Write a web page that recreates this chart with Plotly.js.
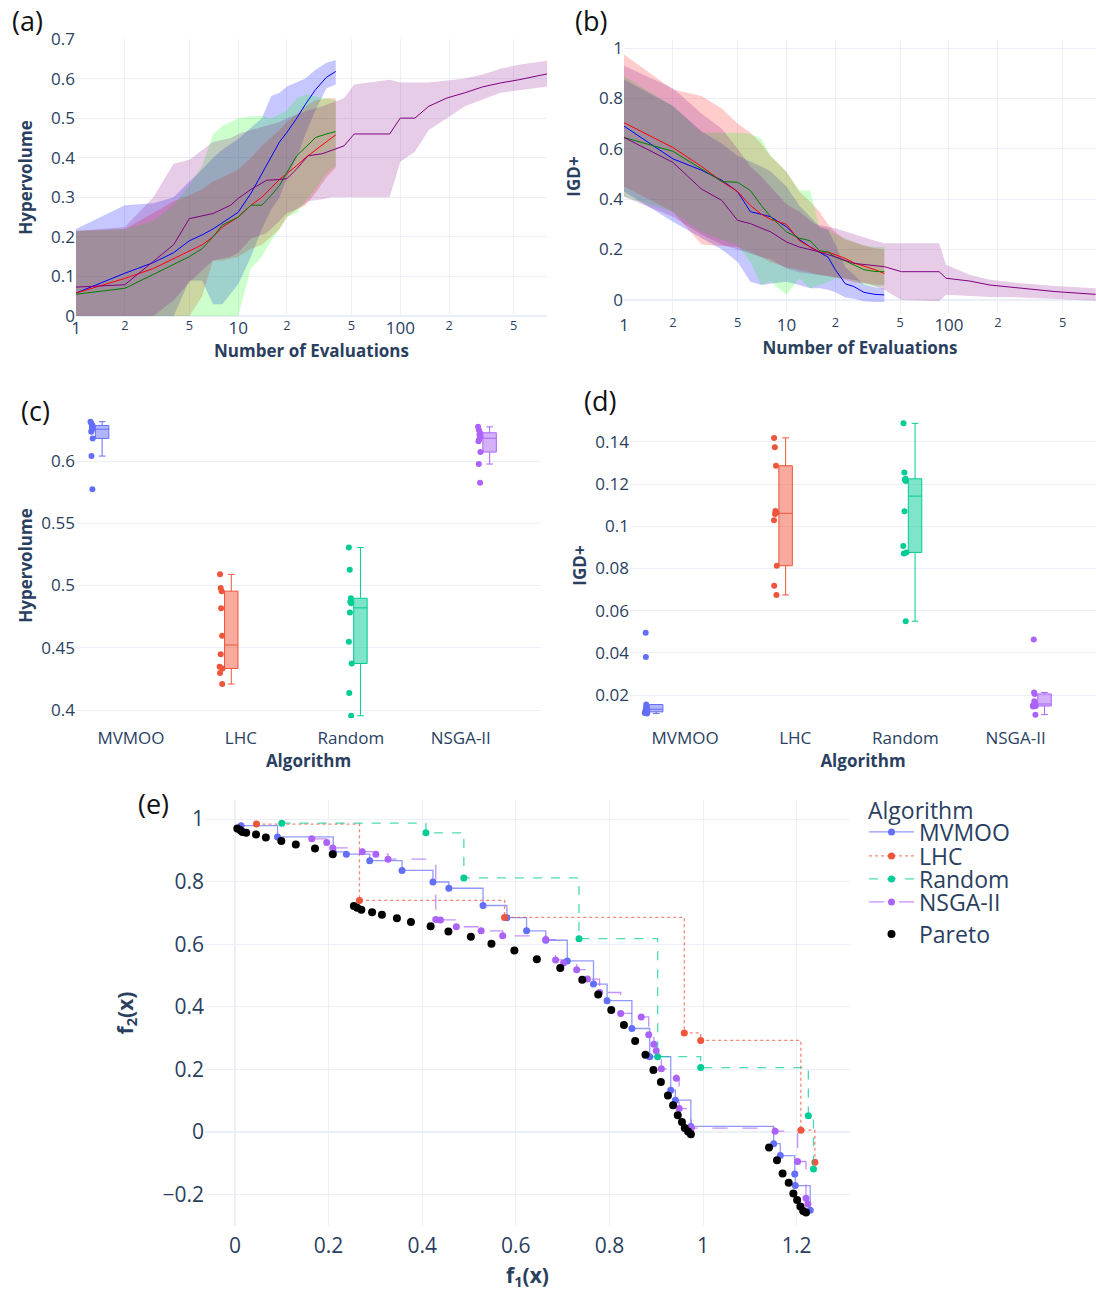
<!DOCTYPE html>
<html>
<head>
<meta charset="utf-8">
<script src="https://cdn.plot.ly/plotly-3.0.1.min.js"></script>
<style>
  html, body { margin: 0; padding: 0; background: #fff; }
  #fig { width: 1096px; height: 1291px; }
</style>
</head>
<body>
<div id="fig"></div>
<script>
// ---------- algorithms ----------
const algorithms = ['MVMOO', 'LHC', 'Random', 'NSGA-II'];

// ---------- (a) hypervolume vs evaluations ----------
const evals = [1, 2, 3, 4, 5, 6, 7, 8, 10, 12, 14, 16, 18, 20, 23, 26, 30, 35, 40];

const hvMvmooMean  = [0.058, 0.108, 0.135, 0.16, 0.19, 0.205, 0.22, 0.235, 0.262, 0.31, 0.36, 0.40, 0.44, 0.464, 0.50, 0.535, 0.572, 0.603, 0.618];
const hvMvmooUpper = [0.22, 0.28, 0.285, 0.30, 0.34, 0.37, 0.40, 0.42, 0.447, 0.476, 0.50, 0.556, 0.564, 0.58, 0.59, 0.60, 0.622, 0.64, 0.647];
const hvMvmooLower = [0, 0, 0, 0, 0.09, 0.09, 0.03, 0.03, 0.08, 0.15, 0.22, 0.27, 0.3, 0.35, 0.4, 0.46, 0.52, 0.575, 0.585];

const hvLhcMean  = [0.058, 0.095, 0.12, 0.145, 0.163, 0.18, 0.20, 0.225, 0.25, 0.28, 0.30, 0.325, 0.345, 0.36, 0.38, 0.40, 0.42, 0.44, 0.458];
const hvLhcUpper = [0.215, 0.22, 0.26, 0.29, 0.305, 0.32, 0.34, 0.35, 0.37, 0.40, 0.43, 0.45, 0.47, 0.49, 0.51, 0.53, 0.545, 0.55, 0.55];
const hvLhcLower = [0, 0, 0, 0, 0, 0.05, 0.14, 0.14, 0.15, 0.17, 0.18, 0.2, 0.22, 0.25, 0.27, 0.28, 0.31, 0.35, 0.375];

const hvRandomMean  = [0.055, 0.07, 0.105, 0.13, 0.15, 0.17, 0.20, 0.23, 0.25, 0.28, 0.28, 0.305, 0.33, 0.363, 0.405, 0.426, 0.451, 0.46, 0.466];
const hvRandomUpper = [0.215, 0.22, 0.24, 0.28, 0.33, 0.38, 0.46, 0.48, 0.50, 0.505, 0.505, 0.50, 0.51, 0.52, 0.55, 0.56, 0.555, 0.55, 0.545];
const hvRandomLower = [0, 0, 0, 0, 0, 0, 0, 0, 0, 0.12, 0.15, 0.19, 0.22, 0.25, 0.26, 0.29, 0.32, 0.36, 0.38];

const evalsNsgaA   = [1, 2, 3, 4, 5, 7, 9, 10, 12, 15, 18, 20, 23, 27, 33, 38, 45, 52, 86, 100, 123, 150, 194, 250, 322, 416, 539, 810];
const hvNsgaMean   = [0.073, 0.079, 0.138, 0.18, 0.246, 0.259, 0.28, 0.297, 0.32, 0.343, 0.345, 0.347, 0.372, 0.405, 0.41, 0.42, 0.43, 0.46, 0.46, 0.50, 0.50, 0.53, 0.551, 0.564, 0.579, 0.589, 0.597, 0.612];
const hvNsgaUpper  = [0.215, 0.225, 0.30, 0.385, 0.395, 0.44, 0.45, 0.46, 0.47, 0.48, 0.49, 0.50, 0.51, 0.52, 0.53, 0.54, 0.55, 0.585, 0.597, 0.59, 0.59, 0.59, 0.595, 0.60, 0.61, 0.625, 0.635, 0.645];
const hvNsgaLower  = [0, 0, 0, 0.04, 0.085, 0.14, 0.15, 0.16, 0.195, 0.21, 0.24, 0.26, 0.27, 0.29, 0.295, 0.30, 0.30, 0.30, 0.30, 0.39, 0.415, 0.47, 0.50, 0.53, 0.547, 0.564, 0.57, 0.58];

// ---------- (b) IGD+ vs evaluations ----------
const igdMvmooMean  = [0.69, 0.56, 0.515, 0.475, 0.43, 0.35, 0.34, 0.33, 0.29, 0.24, 0.21, 0.19, 0.17, 0.12, 0.064, 0.053, 0.03, 0.022, 0.02];
const igdMvmooUpper = [0.875, 0.77, 0.67, 0.62, 0.572, 0.55, 0.53, 0.51, 0.45, 0.375, 0.33, 0.29, 0.28, 0.22, 0.13, 0.1, 0.06, 0.05, 0.045];
const igdMvmooLower = [0.43, 0.31, 0.245, 0.2, 0.151, 0.072, 0.059, 0.065, 0.072, 0.059, 0.046, 0.046, 0.04, 0.03, 0.01, 0.005, -0.005, -0.008, -0.008];

const igdLhcMean  = [0.704, 0.605, 0.53, 0.47, 0.43, 0.375, 0.34, 0.32, 0.30, 0.235, 0.21, 0.19, 0.19, 0.18, 0.165, 0.147, 0.135, 0.12, 0.105];
const igdLhcUpper = [0.974, 0.835, 0.81, 0.76, 0.70, 0.664, 0.62, 0.57, 0.51, 0.43, 0.39, 0.35, 0.30, 0.27, 0.24, 0.23, 0.215, 0.205, 0.2];
const igdLhcLower = [0.45, 0.35, 0.22, 0.215, 0.21, 0.19, 0.17, 0.15, 0.13, 0.12, 0.11, 0.10, 0.095, 0.09, 0.08, 0.07, 0.065, 0.06, 0.06];

const igdRandomMean  = [0.645, 0.59, 0.52, 0.47, 0.467, 0.434, 0.375, 0.33, 0.27, 0.245, 0.235, 0.195, 0.19, 0.17, 0.155, 0.138, 0.12, 0.113, 0.112];
const igdRandomUpper = [0.888, 0.77, 0.664, 0.664, 0.664, 0.66, 0.64, 0.572, 0.507, 0.434, 0.434, 0.283, 0.283, 0.26, 0.243, 0.23, 0.217, 0.21, 0.21];
const igdRandomLower = [0.41, 0.35, 0.27, 0.24, 0.217, 0.151, 0.059, 0.072, 0.02, 0.086, 0.046, 0.059, 0.07, 0.086, 0.086, 0.075, 0.059, 0.053, 0.053];

const evalsNsgaB   = [1, 2, 3, 4, 5, 6, 7, 8, 10, 12, 15, 20, 26, 33, 40, 51, 87, 96, 134, 179, 277, 450, 800];
const igdNsgaMean  = [0.645, 0.546, 0.44, 0.395, 0.316, 0.303, 0.285, 0.27, 0.23, 0.21, 0.195, 0.171, 0.145, 0.138, 0.132, 0.112, 0.112, 0.086, 0.075, 0.059, 0.046, 0.033, 0.022];
const igdNsgaUpper = [0.93, 0.84, 0.74, 0.68, 0.6, 0.53, 0.49, 0.45, 0.38, 0.35, 0.3, 0.285, 0.26, 0.24, 0.225, 0.225, 0.225, 0.14, 0.1, 0.08, 0.066, 0.055, 0.046];
const igdNsgaLower = [0.41, 0.33, 0.26, 0.22, 0.2, 0.185, 0.17, 0.16, 0.125, 0.11, 0.1, 0.09, 0.08, 0.06, 0.04, 0.0, -0.005, 0.02, 0.015, 0.012, 0.01, 0.005, -0.003];

// ---------- (c) final hypervolume per run ----------
const finalHvMvmoo  = [0.6316, 0.6302, 0.6286, 0.6273, 0.6262, 0.6249, 0.6235, 0.6182, 0.604, 0.5773];
const finalHvLhc    = [0.509, 0.498, 0.4955, 0.4818, 0.4596, 0.4449, 0.4347, 0.4334, 0.4297, 0.4209];
const finalHvRandom = [0.5305, 0.5126, 0.4898, 0.487, 0.4858, 0.4783, 0.4548, 0.4374, 0.4136, 0.3954];
const finalHvNsga   = [0.6275, 0.6249, 0.6227, 0.6214, 0.6193, 0.6174, 0.616, 0.6072, 0.5976, 0.5826];

// ---------- (d) final IGD+ per run ----------
const finalIgdMvmoo  = [0.0495, 0.038, 0.0155, 0.014, 0.0135, 0.013, 0.0125, 0.012, 0.0115, 0.0112];
const finalIgdLhc    = [0.1419, 0.1375, 0.1287, 0.1072, 0.1065, 0.1058, 0.1028, 0.0813, 0.0718, 0.0674];
const finalIgdRandom = [0.1488, 0.1255, 0.1225, 0.122, 0.1215, 0.1071, 0.0907, 0.0876, 0.0871, 0.055];
const finalIgdNsga   = [0.0463, 0.0212, 0.0205, 0.017, 0.016, 0.0155, 0.015, 0.0148, 0.0145, 0.0107];

// ---------- (e) non-dominated sets in objective space ----------
const mvF1 = [0.013, 0.091, 0.21, 0.238, 0.288, 0.357, 0.423, 0.457, 0.53, 0.581, 0.623, 0.664, 0.71, 0.766, 0.795, 0.848, 0.886, 0.931, 0.941, 0.974, 1.151, 1.165, 1.196, 1.197, 1.229];
const mvF2 = [0.979, 0.943, 0.895, 0.888, 0.867, 0.836, 0.799, 0.779, 0.724, 0.685, 0.643, 0.613, 0.547, 0.473, 0.42, 0.331, 0.241, 0.134, 0.102, 0.018, -0.037, -0.075, -0.134, -0.171, -0.25];

const lhcF1 = [0.046, 0.266, 0.576, 0.96, 0.995, 1.209, 1.239];
const lhcF2 = [0.984, 0.74, 0.686, 0.317, 0.293, 0.006, -0.096];

const rndF1 = [0.1, 0.408, 0.489, 0.735, 0.903, 0.995, 1.225, 1.236];
const rndF2 = [0.987, 0.956, 0.812, 0.618, 0.241, 0.206, 0.052, -0.118];

const nsF1 = [0.164, 0.196, 0.209, 0.272, 0.301, 0.327, 0.429, 0.439, 0.473, 0.526, 0.572, 0.664, 0.685, 0.702, 0.73, 0.753, 0.779, 0.824, 0.868, 0.884, 0.895, 0.9, 0.911, 0.943, 0.949, 0.975, 1.154, 1.202, 1.22, 1.224];
const nsF2 = [0.937, 0.925, 0.908, 0.896, 0.888, 0.872, 0.679, 0.678, 0.656, 0.643, 0.627, 0.615, 0.55, 0.54, 0.519, 0.489, 0.446, 0.379, 0.368, 0.311, 0.281, 0.26, 0.202, 0.172, 0.075, 0.013, 0.003, -0.094, -0.211, -0.23];

const paretoF1 = [0.005, 0.011, 0.016, 0.024, 0.045, 0.066, 0.099, 0.130, 0.171, 0.209,
  0.254, 0.261, 0.270, 0.293, 0.314, 0.346, 0.376, 0.418, 0.456, 0.504, 0.548, 0.597, 0.645, 0.695, 0.742, 0.776, 0.804, 0.831, 0.855, 0.877, 0.894, 0.910, 0.925, 0.936, 0.946, 0.955, 0.961, 0.968, 0.974,
  1.141, 1.158, 1.170, 1.183, 1.193, 1.201, 1.208, 1.214, 1.220];
const paretoF2 = [0.970, 0.965, 0.959, 0.956, 0.951, 0.941, 0.930, 0.919, 0.906, 0.888,
  0.722, 0.717, 0.710, 0.702, 0.694, 0.683, 0.671, 0.658, 0.641, 0.624, 0.602, 0.580, 0.552, 0.524, 0.487, 0.440, 0.390, 0.342, 0.291, 0.247, 0.198, 0.160, 0.117, 0.086, 0.054, 0.032, 0.013, 0.002, -0.007,
  -0.049, -0.090, -0.132, -0.162, -0.196, -0.217, -0.238, -0.252, -0.257];

// ---------- styling ----------
const W = 1096, H = 1291;
const px2x = p => p / W;          // horizontal pixel -> paper fraction
const px2y = p => 1 - p / H;      // vertical pixel (from top) -> paper fraction

const lineColors = { MVMOO: 'blue', LHC: 'red', Random: 'green', 'NSGA-II': 'purple' };
const bandColors = { MVMOO: 'rgba(0,0,255,0.22)', LHC: 'rgba(255,0,0,0.2)', Random: 'rgba(0,255,0,0.2)', 'NSGA-II': 'rgba(128,0,128,0.2)' };
const pxColors   = { MVMOO: '#636efa', LHC: '#EF553B', Random: '#00cc96', 'NSGA-II': '#ab63fa' };
const pxLines    = { MVMOO: 'rgba(99,110,250,0.7)', LHC: 'rgba(239,85,59,0.7)', Random: 'rgba(0,204,150,0.7)', 'NSGA-II': 'rgba(171,99,250,0.7)' };
const dashes     = { MVMOO: 'solid', LHC: 'dot', Random: 'dash', 'NSGA-II': 'longdash' };
const legendIds  = { MVMOO: 'legend', LHC: 'legend2', Random: 'legend3', 'NSGA-II': 'legend4' };

function band(x, lo, hi, alg, xa, ya) {
  return {
    type: 'scatter', mode: 'lines',
    x: x.concat(x.slice().reverse()),
    y: hi.concat(lo.slice().reverse()),
    fill: 'toself', fillcolor: bandColors[alg],
    line: { width: 0, color: bandColors[alg] },
    hoverinfo: 'skip', showlegend: false, xaxis: xa, yaxis: ya
  };
}
function meanLine(x, y, alg, xa, ya) {
  return { type: 'scatter', mode: 'lines', x: x, y: y, name: alg,
    line: { color: lineColors[alg], width: 1 }, showlegend: false, xaxis: xa, yaxis: ya };
}
function boxTrace(vals, alg, xa, ya, group) {
  return {
    type: 'box', x: vals.map(() => alg), y: vals, name: alg,
    alignmentgroup: group, offsetgroup: alg,
    boxpoints: 'all', jitter: 0.3, pointpos: -1.5, quartilemethod: 'exclusive',
    marker: { color: pxColors[alg], size: 6 },
    line: { color: pxColors[alg], width: 1 },
    showlegend: false, xaxis: xa, yaxis: ya
  };
}
function frontTrace(f1, f2, alg) {
  return {
    type: 'scatter', mode: 'lines+markers', x: f1, y: f2, name: alg, legend: legendIds[alg],
    line: { shape: 'hv', color: pxLines[alg], width: 1.3, dash: dashes[alg] },
    marker: { color: pxColors[alg], size: 7 },
    xaxis: 'x5', yaxis: 'y5'
  };
}

const traces = [
  // (a) bands then means
  band(evals, hvMvmooLower, hvMvmooUpper, 'MVMOO', 'x', 'y'),
  band(evals, hvLhcLower, hvLhcUpper, 'LHC', 'x', 'y'),
  band(evals, hvRandomLower, hvRandomUpper, 'Random', 'x', 'y'),
  band(evalsNsgaA, hvNsgaLower, hvNsgaUpper, 'NSGA-II', 'x', 'y'),
  meanLine(evals, hvMvmooMean, 'MVMOO', 'x', 'y'),
  meanLine(evals, hvLhcMean, 'LHC', 'x', 'y'),
  meanLine(evals, hvRandomMean, 'Random', 'x', 'y'),
  meanLine(evalsNsgaA, hvNsgaMean, 'NSGA-II', 'x', 'y'),
  // (b)
  band(evals, igdMvmooLower, igdMvmooUpper, 'MVMOO', 'x2', 'y2'),
  band(evals, igdLhcLower, igdLhcUpper, 'LHC', 'x2', 'y2'),
  band(evals, igdRandomLower, igdRandomUpper, 'Random', 'x2', 'y2'),
  band(evalsNsgaB, igdNsgaLower, igdNsgaUpper, 'NSGA-II', 'x2', 'y2'),
  meanLine(evals, igdMvmooMean, 'MVMOO', 'x2', 'y2'),
  meanLine(evals, igdLhcMean, 'LHC', 'x2', 'y2'),
  meanLine(evals, igdRandomMean, 'Random', 'x2', 'y2'),
  meanLine(evalsNsgaB, igdNsgaMean, 'NSGA-II', 'x2', 'y2'),
  // (c)
  boxTrace(finalHvMvmoo, 'MVMOO', 'x3', 'y3', 'hv'),
  boxTrace(finalHvLhc, 'LHC', 'x3', 'y3', 'hv'),
  boxTrace(finalHvRandom, 'Random', 'x3', 'y3', 'hv'),
  boxTrace(finalHvNsga, 'NSGA-II', 'x3', 'y3', 'hv'),
  // (d)
  boxTrace(finalIgdMvmoo, 'MVMOO', 'x4', 'y4', 'igd'),
  boxTrace(finalIgdLhc, 'LHC', 'x4', 'y4', 'igd'),
  boxTrace(finalIgdRandom, 'Random', 'x4', 'y4', 'igd'),
  boxTrace(finalIgdNsga, 'NSGA-II', 'x4', 'y4', 'igd'),
  // (e)
  frontTrace(mvF1, mvF2, 'MVMOO'),
  frontTrace(lhcF1, lhcF2, 'LHC'),
  frontTrace(rndF1, rndF2, 'Random'),
  frontTrace(nsF1, nsF2, 'NSGA-II'),
  { type: 'scatter', mode: 'markers', x: paretoF1, y: paretoF2, name: 'Pareto', legend: 'legend5',
    marker: { color: 'black', size: 8 }, xaxis: 'x5', yaxis: 'y5' }
];

const grid = '#EBF0F8';
const ax = (extra) => Object.assign({
  gridcolor: grid, zerolinecolor: grid, zerolinewidth: 2, linecolor: grid,
  showline: false, ticks: '', automargin: false, tickfont: { size: 17 }
}, extra);
const t17 = (s, standoff) => {
  const t = { text: '<b>' + s + '</b>', font: { size: 17 } };
  if (standoff !== undefined) t.standoff = standoff;
  return t;
};
// invisible tick marks push category / f1 labels a little further from the axis
const hiddenTicks = (len) => ({ ticks: 'outside', ticklen: len, tickcolor: 'rgba(0,0,0,0)' });

// one single-entry legend per series so the rows can sit close together
const legendBase = (yPx) => ({
  font: { size: 23, color: '#2a3f5f' }, x: px2x(864), y: px2y(yPx), xanchor: 'left', yanchor: 'middle',
  bgcolor: 'rgba(0,0,0,0)', itemwidth: 45
});

const layout = {
  width: W, height: H,
  margin: { l: 0, r: 0, t: 0, b: 0 },
  paper_bgcolor: 'white', plot_bgcolor: 'white',
  font: { family: '"Open Sans", verdana, arial, sans-serif', color: '#2a3f5f', size: 17 },
  boxmode: 'group',
  showlegend: true,
  xaxis:  ax({ type: 'log', range: [0, 2.905], dtick: 'D2', domain: [px2x(76), px2x(547)], anchor: 'y', title: t17('Number of Evaluations', 0) }),
  yaxis:  ax({ range: [0, 0.7], dtick: 0.1, domain: [px2y(316), px2y(39)], anchor: 'x', title: t17('Hypervolume') }),
  xaxis2: ax({ type: 'log', range: [0, 2.905], dtick: 'D2', domain: [px2x(624), 1], anchor: 'y2', title: t17('Number of Evaluations', 0) }),
  yaxis2: ax({ range: [-0.052, 1.032], dtick: 0.2, domain: [px2y(313), px2y(40)], anchor: 'x2', title: t17('IGD+') }),
  xaxis3: ax(Object.assign({ type: 'category', categoryorder: 'array', categoryarray: algorithms, range: [-0.5, 3.73], showgrid: false,
               domain: [px2x(76), px2x(541)], anchor: 'y3', title: t17('Algorithm', 3) }, hiddenTicks(5))),
  yaxis3: ax({ range: [0.3936, 0.6386], dtick: 0.05, domain: [px2y(718), px2y(413)], anchor: 'x3', title: t17('Hypervolume') }),
  xaxis4: ax(Object.assign({ type: 'category', categoryorder: 'array', categoryarray: algorithms, range: [-0.5, 3.73], showgrid: false,
               domain: [px2x(630), 1], anchor: 'y4', title: t17('Algorithm', 3) }, hiddenTicks(5))),
  yaxis4: ax({ range: [0.0091, 0.1537], dtick: 0.02, domain: [px2y(718), px2y(413)], anchor: 'x4', title: t17('IGD+') }),
  xaxis5: ax(Object.assign({ range: [-0.064, 1.314], dtick: 0.2, domain: [px2x(205), px2x(850)], anchor: 'y5', tickfont: { size: 21 },
               title: { text: '<b>f<sub>1</sub>(x)</b>', font: { size: 21 }, standoff: 11 } }, hiddenTicks(1))),
  yaxis5: ax({ range: [-0.3, 1.061], dtick: 0.2, domain: [px2y(1226), px2y(800)], anchor: 'x5', tickfont: { size: 21 },
               title: { text: '<b>f<sub>2</sub>(x)</b>', font: { size: 21 }, standoff: 23 } }),
  legend:  legendBase(832),
  legend2: legendBase(856),
  legend3: legendBase(879),
  legend4: legendBase(902),
  legend5: legendBase(934),
  annotations: [
    { text: '(a)', x: px2x(27), y: px2y(21) },
    { text: '(b)', x: px2x(591), y: px2y(21) },
    { text: '(c)', x: px2x(35), y: px2y(411) },
    { text: '(d)', x: px2x(600), y: px2y(400) },
    { text: '(e)', x: px2x(153), y: px2y(803) }
  ].map(a => Object.assign(a, { xref: 'paper', yref: 'paper', xanchor: 'center', yanchor: 'middle',
        showarrow: false, font: { size: 27, color: '#111111' } }))
  .concat([{ text: 'Algorithm', xref: 'paper', yref: 'paper', x: px2x(866), y: px2y(810),
             xanchor: 'left', yanchor: 'middle', showarrow: false, font: { size: 23, color: '#2a3f5f' } }])
};

Plotly.newPlot('fig', traces, layout, { staticPlot: true, displayModeBar: false });
</script>
</body>
</html>
